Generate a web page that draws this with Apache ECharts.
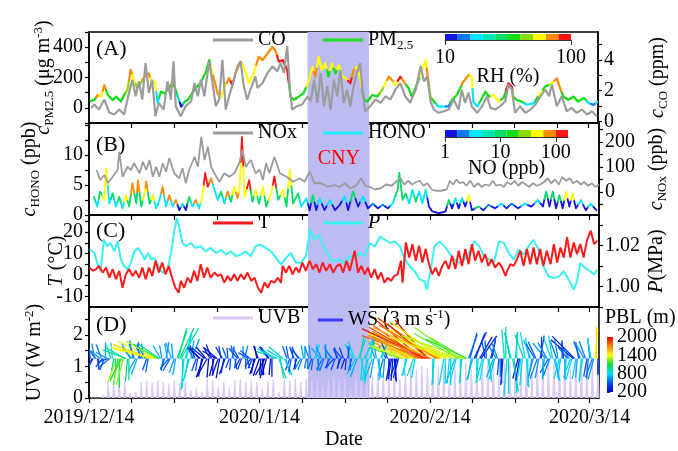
<!DOCTYPE html>
<html>
<head>
<meta charset="utf-8">
<script src="https://cdn.jsdelivr.net/npm/echarts@6/dist/echarts.min.js"></script>
<style>
  html, body { margin: 0; padding: 0; background: #fff; }
  #chart { width: 678px; height: 451px; }
</style>
</head>
<body>
<div id="chart"></div>
<script>
// x axis: days since 2019/12/14
const dateTicks = [0, 31, 62, 91]
const dateLabels = ['2019/12/14', '2020/1/14', '2020/2/14', '2020/3/14']
const minorTicks = [0, 7.75, 15.5, 23.25, 31, 38.75, 46.5, 54.25, 62, 69.75, 77.5, 85.25, 91]
const cnyStart = 39.8
const cnyEnd = 51.0

// (A) PM2.5 (ug m-3) coloured by RH (%)
const pmDay = [0.3, 1.0, 1.6, 2.2, 2.8, 3.4, 4.3, 5.0, 5.8, 6.4,
  7.0, 7.6, 8.2, 8.8, 9.4, 10.1, 10.9, 11.4, 12.0, 12.5,
  13.1, 13.8, 14.6, 15.2, 15.8, 16.3, 16.8, 17.4, 18.0, 19.2,
  20.4, 21.3, 21.9, 22.4, 22.8, 23.4, 24.0, 24.6, 25.5, 26.1,
  26.7, 27.6, 28.2, 29.1, 30.0, 30.9, 31.6, 32.5, 33.4, 33.9,
  34.6, 35.3, 36.1, 36.7, 37.3, 38.2, 39.1, 40.1, 40.7, 41.2,
  41.8, 42.4, 43.0, 43.6, 44.2, 44.9, 45.5, 46.1, 46.7, 47.6,
  48.2, 48.8, 49.4, 50.1, 50.7, 51.6, 52.5, 53.4, 54.0, 54.6,
  55.2, 55.8, 56.7, 57.3, 58.2, 58.8, 59.8, 60.7, 61.3, 61.7,
  62.2, 62.8, 63.7, 64.6, 65.5, 66.1, 67.0, 67.6, 68.2, 69.1,
  69.7, 70.0, 70.7, 71.6, 72.2, 72.8, 73.7, 74.6, 75.5, 76.4,
  77.0, 77.3, 77.9, 78.8, 79.8, 81.0, 81.6, 82.2, 83.1, 83.7,
  84.3, 85.2, 85.8, 86.4, 87.3, 88.2, 89.1, 90.1, 91.0, 91.9,
  92.7]
const pmVal = [45, 52, 85, 74, 150, 85, 52, 74, 41, 85,
  118, 250, 184, 131, 160, 205, 227, 162, 173, 33,
  107, 96, 131, 170, 118, 60, 8, 40, 52, 118,
  170, 238, 315, 240, 184, 98, 66, 131, 197, 150,
  230, 304, 271, 162, 230, 336, 315, 358, 402, 380,
  304, 315, 250, 74, 52, 74, 98, 184, 271, 205,
  336, 250, 293, 205, 293, 227, 282, 205, 195, 162,
  250, 271, 195, 52, 41, 85, 74, 118, 162, 205,
  184, 150, 205, 173, 129, 74, 162, 250, 315, 205,
  74, 41, 8, 8, 11, 52, 85, 131, 173, 216,
  205, 41, 8, 66, 107, 74, 85, 41, 66, 162,
  140, 74, 52, 41, 20, 31, 64, 96, 140, 150,
  162, 195, 129, 74, 52, 74, 41, 66, 31, 20,
  41]
const pmRH = [59, 59, 86, 77, 86, 59, 59, 59, 59, 59,
  68, 86, 77, 68, 68, 86, 86, 77, 77, 32,
  59, 59, 59, 68, 59, 41, 14, 50, 59, 59,
  59, 59, 59, 77, 86, 86, 77, 77, 86, 95,
  86, 86, 77, 77, 77, 86, 86, 86, 86, 86,
  95, 95, 95, 59, 59, 59, 59, 77, 77, 86,
  77, 77, 77, 59, 77, 59, 77, 77, 77, 95,
  86, 77, 77, 59, 59, 59, 59, 68, 77, 86,
  86, 77, 95, 86, 59, 59, 59, 77, 77, 86,
  68, 59, 32, 32, 23, 59, 59, 59, 86, 86,
  77, 32, 32, 59, 59, 59, 77, 77, 59, 95,
  95, 68, 59, 59, 32, 32, 59, 77, 59, 59,
  77, 86, 86, 59, 59, 59, 59, 59, 32, 23,
  32]

// (A) CO (ppm)
const coDay = [0.4, 1.0, 1.8, 2.8, 3.7, 4.6, 5.5, 6.4, 7.3, 7.9,
  8.5, 9.1, 9.7, 10.3, 10.9, 11.5, 12.1, 12.7, 13.6, 14.3,
  14.9, 15.4, 15.8, 16.7, 17.6, 18.6, 19.2, 19.8, 20.4, 21.0,
  21.9, 22.5, 23.1, 23.7, 24.3, 24.9, 25.5, 26.4, 27.0, 27.6,
  28.2, 28.8, 29.4, 30.3, 30.7, 31.6, 32.5, 33.4, 34.3, 34.9,
  35.5, 36.1, 36.6, 37.0, 37.9, 38.8, 39.8, 40.4, 41.0, 41.6,
  42.2, 42.8, 43.4, 44.0, 44.6, 45.2, 45.8, 46.4, 47.0, 47.6,
  48.2, 48.8, 49.4, 49.9, 50.3, 51.2, 52.2, 53.1, 54.0, 54.9,
  55.8, 56.7, 57.6, 58.5, 59.5, 60.4, 61.0, 61.6, 62.2, 62.8,
  63.7, 64.6, 65.5, 66.4, 67.3, 67.9, 68.5, 69.1, 69.7, 70.7,
  71.6, 72.5, 73.1, 74.0, 74.9, 75.8, 76.4, 77.0, 77.6, 78.5,
  79.5, 80.4, 81.3, 82.2, 83.1, 83.8, 84.3, 85.2, 86.1, 87.0,
  87.9, 88.8, 89.8, 90.7, 91.6, 92.5]
const coVal = [0.88, 1.10, 0.77, 1.42, 0.58, 0.45, 0.77, 0.45, 1.87, 2.71,
  1.63, 2.6, 1.42, 3.79, 1.85, 2.71, 0.34, 1.2, 0.77, 2.6,
  1.42, 3.9, 0.99, 0.34, 0.99, 1.31, 2.49, 1.63, 2.71, 1.63,
  3.9, 2.49, 0.99, 1.42, 4.0, 0.77, 1.63, 2.71, 3.57, 3.9,
  2.28, 1.42, 2.06, 2.92, 2.17, 2.49, 3.14, 3.57, 3.25, 3.79,
  3.14, 4.9, 2.06, 0.77, 0.99, 1.1, 1.63, 1.31, 2.71, 1.2,
  3.14, 0.99, 2.28, 0.77, 2.71, 1.63, 3.35, 1.2, 2.06, 0.99,
  2.28, 3.14, 3.79, 1.63, 0.66, 0.99, 1.42, 1.2, 1.63, 1.42,
  2.06, 2.49, 1.63, 1.2, 2.06, 3.6, 2.6, 2.92, 1.31, 0.77,
  0.56, 0.66, 0.77, 1.42, 0.77, 2.06, 1.2, 1.87, 0.99, 0.56,
  0.99, 1.63, 0.88, 0.77, 0.99, 1.31, 2.39, 2.06, 0.56, 0.99,
  0.56, 0.77, 1.1, 1.63, 2.06, 1.63, 2.39, 0.99, 1.63, 0.66,
  0.88, 0.56, 0.77, 0.45, 0.66, 0.34]

// (B) HONO (ppb) coloured by NO (ppb)
const honoDay = [0.9, 1.5, 2.0, 2.8, 3.1, 3.7, 4.3, 4.9, 5.5, 6.1,
  6.7, 7.3, 7.9, 8.6, 8.9, 9.5, 10.1, 10.4, 11.0, 11.6,
  12.2, 12.8, 13.4, 14.0, 14.6, 15.2, 15.8, 16.4, 17.0, 17.6,
  18.2, 18.8, 19.4, 20.0, 20.6, 21.1, 21.6, 22.2, 22.8, 23.4,
  24.0, 24.6, 25.2, 25.8, 26.4, 27.0, 27.4, 27.8, 28.3, 29.1,
  29.7, 30.3, 30.9, 31.6, 32.2, 33.1, 33.7, 34.4, 35.3, 35.9,
  36.5, 37.1, 38.0, 38.6, 39.5, 40.1, 40.7, 41.3, 41.9, 42.8,
  43.8, 44.7, 45.6, 46.5, 47.1, 48.0, 48.9, 49.8, 50.7, 51.6,
  52.5, 53.4, 54.3, 55.2, 56.1, 56.4, 57.0, 57.6, 58.2, 58.8,
  59.4, 60.0, 60.6, 61.2, 61.8, 62.4, 63.6, 64.8, 65.4, 66.0,
  66.6, 67.2, 67.8, 68.4, 69.0, 69.6, 70.8, 71.7, 72.6, 73.8,
  75.0, 75.9, 76.8, 78.0, 79.2, 80.4, 81.6, 82.5, 83.1, 83.7,
  84.3, 84.9, 85.5, 86.1, 86.7, 87.3, 87.9, 88.5, 89.4, 90.3,
  91.2, 92.2]
const honoVal = [3.0, 1.4, 3.9, 2.5, 7.8, 1.9, 3.6, 1.4, 3.0, 1.1,
  3.3, 1.4, 5.3, 1.9, 5.8, 1.4, 3.6, 5.6, 1.9, 3.3,
  1.1, 2.5, 4.7, 1.4, 3.3, 1.4, 2.5, 0.8, 1.9, 0.8,
  3.0, 1.4, 2.5, 1.1, 3.0, 7.0, 4.7, 6.1, 4.2, 2.5,
  3.9, 1.9, 3.9, 2.2, 4.7, 2.8, 4.7, 13.0, 3.0, 5.8,
  2.2, 4.2, 1.9, 4.7, 1.4, 3.6, 6.4, 2.5, 4.2, 1.4,
  7.5, 1.9, 3.6, 1.4, 2.8, 0.8, 3.3, 0.8, 2.8, 0.8,
  2.5, 0.8, 1.7, 3.1, 0.8, 3.9, 1.4, 3.1, 1.1, 1.9,
  1.1, 1.7, 1.1, 1.9, 4.2, 7.0, 2.5, 3.6, 1.9, 4.2,
  2.2, 3.9, 1.9, 4.2, 1.4, 0.6, 0.3, 0.6, 2.5, 1.1,
  2.8, 1.1, 2.8, 1.4, 3.3, 0.8, 1.4, 0.8, 1.7, 1.1,
  1.9, 1.1, 1.9, 1.1, 1.9, 1.4, 2.5, 1.4, 3.9, 1.4,
  3.9, 1.1, 3.3, 1.1, 3.9, 1.4, 3.6, 1.1, 2.5, 0.8,
  1.9, 0.8]
const honoNO = [10, 3.5, 10, 44, 44, 3.5, 10, 3.5, 10, 3.5,
  44, 10, 73, 10, 73, 10, 44, 73, 10, 44,
  3.5, 3.5, 73, 3.5, 73, 3.5, 73, 1.3, 3.5, 1.3,
  10, 3.5, 73, 3.5, 44, 121, 121, 73, 3.5, 3.5,
  10, 3.5, 73, 10, 44, 73, 44, 121, 44, 121,
  10, 44, 10, 44, 10, 44, 121, 10, 44, 10,
  44, 10, 10, 3.5, 3.5, 1.3, 10, 1.3, 3.5, 1.3,
  3.5, 1.3, 1.3, 3.5, 1.3, 10, 1.3, 3.5, 1.3, 2.1,
  1.3, 2.1, 1.3, 3.5, 10, 10, 10, 10, 3.5, 3.5,
  10, 3.5, 3.5, 3.5, 1.3, 1.3, 1.3, 1.3, 10, 1.3,
  3.5, 1.3, 3.5, 1.3, 44, 1.3, 10, 1.3, 2.1, 1.3,
  3.5, 1.3, 2.1, 1.3, 3.5, 1.3, 3.5, 1.3, 10, 1.3,
  10, 1.3, 10, 1.3, 44, 1.3, 44, 1.3, 3.5, 1.3,
  3.5, 1.3]

// (B) NOx (ppb)
const noxDay = [1.4, 2.0, 2.8, 3.4, 4.3, 5.2, 5.5, 6.1, 7.0, 7.6,
  8.2, 9.2, 9.8, 10.4, 11.0, 11.6, 12.2, 12.8, 13.4, 14.0,
  14.6, 15.5, 16.4, 17.0, 17.6, 18.2, 19.2, 19.8, 20.4, 21.0,
  21.6, 22.2, 22.8, 23.7, 24.6, 25.5, 26.4, 27.3, 27.9, 28.5,
  29.4, 30.3, 31.0, 31.6, 32.2, 32.8, 33.7, 34.7, 35.9, 37.1,
  38.3, 39.2, 40.1, 41.0, 42.2, 43.4, 44.7, 45.5, 46.5, 47.5,
  48.5, 49.5, 50.2, 51.0, 52.0, 53.0, 54.0, 55.0, 56.0, 56.6,
  57.3, 58.0, 58.7, 59.5, 60.1, 60.8, 61.5, 62.3, 63.0, 64.0,
  65.0, 65.6, 66.2, 66.8, 67.4, 68.0, 68.6, 69.3, 70.0, 70.7,
  71.4, 72.0, 72.7, 73.4, 74.0, 74.7, 75.4, 76.0, 76.7, 77.4,
  78.0, 78.7, 79.4, 80.0, 80.7, 81.4, 82.0, 82.7, 83.4, 84.0,
  84.7, 85.4, 86.0, 86.7, 87.4, 88.0, 88.7, 89.4, 90.0, 90.7,
  91.4, 92.0, 92.7]
const noxVal = [88, 48, 68, 35, 61, 88, 161, 61, 101, 88,
  115, 75, 121, 88, 128, 61, 101, 61, 115, 81,
  135, 75, 55, 95, 35, 88, 141, 101, 221, 128,
  181, 101, 75, 41, 75, 61, 75, 115, 168, 101,
  128, 75, 90, 48, 115, 75, 141, 75, 61, 41,
  55, 41, 81, 35, 35, 21, 28, 20, 35, 15,
  25, 55, 25, 20, 10, 15, 30, 25, 45, 55,
  30, 45, 30, 40, 45, 25, 35, 10, 5, 5,
  10, 45, 30, 50, 35, 40, 25, 45, 20, 35,
  20, 30, 25, 45, 25, 30, 20, 40, 30, 45,
  25, 40, 30, 20, 35, 25, 30, 40, 55, 35,
  50, 30, 60, 45, 55, 35, 45, 30, 40, 25,
  35, 20, 30]

// (C) temperature (degC)
const tDay = [0.1, 0.7, 1.3, 1.8, 2.5, 3.1, 3.7, 4.3, 4.9, 5.5,
  6.1, 6.7, 7.3, 7.9, 8.5, 9.1, 9.7, 10.3, 10.9, 11.5,
  12.1, 12.7, 13.3, 13.9, 14.5, 15.1, 15.7, 16.3, 16.7, 17.3,
  17.9, 18.5, 19.1, 19.7, 20.3, 20.9, 21.5, 22.1, 22.8, 23.4,
  24.0, 24.6, 25.2, 25.8, 26.4, 27.0, 27.6, 28.2, 28.8, 29.5,
  30.1, 30.7, 31.3, 31.9, 32.5, 33.1, 33.7, 34.3, 34.9, 35.2,
  35.8, 36.4, 37.0, 37.6, 38.2, 38.8, 39.4, 40.1, 40.7, 41.3,
  41.9, 42.5, 43.1, 43.8, 44.4, 45.0, 45.6, 46.2, 46.8, 47.4,
  48.3, 48.9, 49.5, 50.1, 50.7, 51.3, 51.9, 52.5, 53.1, 53.7,
  54.3, 54.9, 55.5, 56.1, 56.7, 57.0, 57.6, 58.2, 58.8, 59.4,
  60.0, 60.6, 61.2, 61.8, 62.4, 63.0, 63.6, 64.2, 64.8, 65.4,
  66.0, 66.6, 67.2, 67.8, 68.4, 69.0, 69.6, 70.2, 70.8, 71.4,
  72.0, 72.6, 73.2, 73.8, 74.5, 75.1, 75.7, 76.0, 76.6, 77.2,
  77.8, 78.4, 79.0, 79.6, 80.2, 80.8, 81.4, 82.0, 82.6, 83.2,
  83.9, 84.5, 85.1, 85.7, 86.3, 86.9, 87.5, 88.1, 88.7, 89.3,
  89.9, 90.5, 91.2, 91.8, 92.4]
const tVal = [3.4, 1.9, 2.7, 4.2, 1.1, 3.4, -1.3, 2.7, -2.0, 1.9,
  -6.0, 0.3, 2.7, -0.5, 1.9, -1.3, 3.4, -2.0, 3.4, -0.5,
  6.6, 1.1, 5.8, 0.3, 4.2, -1.3, -6.0, -8.3, -2.8, -6.0,
  -1.3, -3.6, 1.9, -2.8, 5.0, -1.3, 3.4, -1.3, 1.1, -0.5,
  0.3, -3.6, -0.5, -2.8, 0.3, -2.8, 0.3, -2.0, 1.1, -2.8,
  -1.3, -6.0, -8.3, -3.6, -6.0, -2.8, -3.6, -1.3, -3.6, 4.2,
  1.1, 4.2, 0.3, 3.4, 1.1, 5.8, 1.9, 6.6, 2.7, 5.0,
  1.1, 5.8, 1.9, 5.0, 1.1, 4.0, 5.0, 1.1, 6.6, 1.9,
  11.3, 1.1, 4.2, 0.3, 3.4, -1.3, 2.7, -2.0, 1.1, -3.6,
  -1.3, -2.8, -0.5, 0.3, 6.6, -3.6, 15.2, 8.1, 14.4, 6.6,
  13.6, 5.8, 12.1, 5.0, 0.3, 3.4, -0.5, 4.2, 6.6, 2.7,
  8.9, 2.7, 11.3, 4.2, 12.1, 5.0, 14.4, 6.6, 11.3, 5.8,
  9.7, 4.2, 7.4, 3.4, 5.8, 3.4, -0.5, 1.9, 5.0, 4.2,
  7.4, 11.3, 4.2, 12.1, 5.0, 12.8, 5.0, 12.1, 4.2, 11.3,
  5.0, 14.4, 5.8, 12.8, 8.1, 17.6, 8.1, 15.2, 9.7, 14.4,
  8.1, 16.0, 20.7, 14.4, 16.0]

// (C) pressure (MPa)
const pDay = [0.1, 1.0, 1.5, 2.1, 2.7, 3.3, 3.9, 4.6, 5.2, 5.8,
  6.4, 7.0, 7.6, 8.2, 8.9, 9.5, 10.1, 10.7, 11.3, 11.9,
  12.5, 13.1, 13.7, 14.3, 14.9, 15.5, 16.0, 16.5, 17.0, 17.6,
  18.5, 19.4, 20.3, 21.2, 22.1, 23.1, 24.0, 24.9, 25.8, 26.7,
  27.6, 28.5, 29.4, 30.3, 31.2, 32.1, 33.1, 34.0, 34.9, 35.8,
  36.7, 37.6, 38.5, 39.4, 40.2, 40.9, 41.8, 42.7, 43.3, 43.9,
  44.7, 45.6, 46.5, 47.4, 48.3, 49.2, 50.1, 51.0, 52.0, 52.9,
  53.8, 54.7, 55.6, 56.5, 57.4, 58.3, 59.2, 60.1, 61.0, 61.4,
  61.9, 62.8, 63.7, 64.6, 65.5, 66.4, 67.3, 68.2, 69.1, 70.0,
  70.9, 71.8, 72.7, 73.6, 74.5, 75.4, 76.3, 77.2, 78.1, 79.0,
  79.9, 80.8, 81.7, 82.6, 83.5, 84.5, 85.4, 86.3, 87.2, 88.1,
  88.7, 89.3, 90.2, 91.1, 91.8, 92.4]
const pVal = [1.018, 1.0164, 1.0116, 1.0075, 1.0229, 1.0197, 1.0213, 1.0172, 1.0221, 1.0132,
  1.0099, 1.0083, 1.0116, 1.0172, 1.0189, 1.0164, 1.0132, 1.0164, 1.0132, 1.014,
  1.0107, 1.0075, 1.0067, 1.0083, 1.0164, 1.027, 1.0335, 1.0278, 1.0213, 1.0197,
  1.0213, 1.0189, 1.0197, 1.0172, 1.0189, 1.0164, 1.018, 1.0156, 1.0172, 1.0148,
  1.0156, 1.0172, 1.0148, 1.0197, 1.0205, 1.0189, 1.0172, 1.014, 1.0107, 1.014,
  1.0164, 1.0116, 1.0116, 1.0148, 1.0278, 1.0229, 1.0254, 1.0189, 1.0172, 1.0132,
  1.0125, 1.0132, 1.0116, 1.0148, 1.014, 1.0164, 1.0148, 1.0213, 1.0197, 1.0245,
  1.0229, 1.0213, 1.0221, 1.0197, 1.0132, 1.0099, 1.0075, 1.0034, 1.0026, 0.9985,
  1.005, 1.0197, 1.0221, 1.0197, 1.0164, 1.0132, 1.0116, 1.0132, 1.0164, 1.0221,
  1.0197, 1.0148, 1.0132, 1.0116, 1.0221, 1.0213, 1.0164, 1.0132, 1.018, 1.0156,
  1.0197, 1.0229, 1.018, 1.0099, 1.005, 1.0042, 1.005, 1.0075, 1.0034, 0.9985,
  1.0026, 1.0116, 1.0091, 1.0075, 1.0059, 1.0083]

// (D) daily UVB peak (W m-2), one per day from day 0
const uvbPeak = [0.05, 0.05, 0.1, 0.5, 0.52, 0.55, 0.5, 0.15, 0.2, 0.5,
  0.55, 0.5, 0.55, 0.5, 0.45, 0.55, 0.5, 0.52, 0.25, 0.3,
  0.2, 0.6, 0.55, 0.35, 0.5, 0.3, 0.55, 0.6, 0.5, 0.55,
  0.5, 0.3, 0.55, 0.6, 0.2, 0.6, 0.55, 0.6, 0.5, 0.6,
  0.55, 0.6, 0.4, 0.6, 0.65, 0.6, 0.6, 0.3, 0.65, 0.6,
  0.55, 0.7, 0.8, 0.85, 0.8, 0.9, 0.6, 0.85, 1.0, 0.9,
  1.0, 0.95, 1.05, 1.0, 1.05, 0.5, 1.0, 1.05, 1.1, 0.9,
  1.1, 1.05, 1.1, 1.1, 0.7, 1.1, 1.15, 1.1, 1.15, 1.15,
  0.8, 1.2, 1.15, 1.2, 1.1, 1.2, 1.2, 0.9, 1.2, 1.2,
  1.25, 1.2, 1.2]

// (D) wind sticks, two sets every half day (set B offset by a quarter day):
// direction drawn (deg, 0 = right, 90 = up), speed (m s-1), PBL (m)
const wsStep = 0.5
const wsOffsetB = 0.25
const wsAng = [120, 250, 100, 280, 140, 230, 90, 200, 110, 260,
  250, 270, 240, 150, 265, 120, 100, 240, 90, 140,
  100, 250, 165, 160, 155, 150, 120, 260, 80, 230,
  110, 250, 70, 65, 270, 75, 260, 80, 120, 250,
  130, 260, 140, 240, 120, 270, 150, 250, 100, 260,
  110, 250, 80, 280, 130, 240, 90, 270, 150, 230,
  260, 100, 250, 275, 240, 120, 265, 140, 160, 290,
  150, 295, 110, 250, 90, 270, 120, 240, 100, 260,
  110, 250, 70, 280, 130, 240, 90, 260, 120, 230,
  100, 260, 130, 250, 80, 270, 120, 240, 70, 280,
  60, 265, 75, 250, 110, 280, 65, 255, 120, 270,
  260, 275, 250, 160, 150, 265, 155, 145, 250, 160,
  150, 140, 160, 130, 155, 270, 145, 160, 150, 260,
  155, 265, 160, 250, 150, 270, 165, 150, 70, 260,
  65, 270, 60, 255, 100, 280, 75, 250, 120, 265,
  270, 95, 265, 100, 280, 85, 255, 260, 110, 275,
  100, 260, 120, 250, 80, 270, 130, 240, 110, 285,
  110, 255, 90, 270, 130, 250, 140, 260, 100, 265,
  120, 260, 95, 250, 85, 270]
const wsSpeed = [1.6, 1.2, 1.8, 1.4, 1.5, 1.3, 1.9, 1.2, 1.7, 1.5,
  3.0, 3.5, 2.8, 2.5, 2.8, 2.0, 2.2, 1.8, 2.0, 1.6,
  1.8, 1.5, 4.5, 5.0, 4.8, 3.5, 1.8, 1.5, 2.0, 1.6,
  2.0, 1.8, 3.5, 4.0, 3.5, 3.0, 2.5, 2.2, 1.5, 1.6,
  1.8, 2.2, 2.0, 2.5, 1.6, 2.0, 1.8, 2.2, 1.5, 1.8,
  1.4, 1.2, 1.5, 1.3, 1.6, 1.2, 1.5, 1.3, 1.4, 1.2,
  1.8, 1.5, 2.2, 2.0, 2.3, 1.6, 2.0, 2.2, 2.5, 2.6,
  2.0, 2.2, 1.6, 1.5, 1.4, 1.3, 1.5, 1.4, 1.6, 1.2,
  1.5, 1.3, 1.8, 1.4, 1.6, 1.5, 1.7, 1.2, 1.5, 1.4,
  1.4, 1.2, 1.5, 1.3, 1.6, 1.4, 2.0, 2.2, 2.5, 2.8,
  2.8, 3.0, 2.5, 2.6, 2.0, 2.4, 2.6, 2.2, 1.8, 2.5,
  2.5, 2.8, 2.2, 3.5, 4.0, 2.0, 5.0, 5.5, 2.2, 6.0,
  6.5, 7.0, 8.0, 6.0, 7.5, 3.0, 8.5, 9.0, 7.0, 3.2,
  8.0, 3.0, 7.0, 3.2, 6.0, 2.8, 8.5, 5.0, 3.0, 2.5,
  3.5, 2.8, 3.0, 2.5, 2.0, 2.6, 2.2, 2.4, 1.8, 2.0,
  3.0, 3.5, 4.5, 3.0, 4.0, 3.2, 2.5, 3.0, 3.0, 3.5,
  2.5, 2.2, 2.0, 2.6, 2.8, 2.3, 2.4, 2.0, 2.6, 2.8,
  2.2, 2.5, 2.0, 2.6, 1.8, 2.4, 3.5, 2.5, 2.0, 2.8,
  2.0, 2.2, 2.5, 2.4, 3.5, 1.8]
const wsPBL = [500, 350, 600, 400, 650, 450, 700, 500, 900, 1000,
  1300, 1100, 1200, 900, 1000, 700, 600, 650, 600, 550,
  650, 500, 1400, 1500, 1350, 1100, 700, 600, 650, 550,
  700, 650, 950, 1000, 900, 850, 800, 700, 550, 500,
  300, 250, 280, 220, 350, 300, 260, 240, 400, 350,
  550, 450, 600, 500, 500, 400, 650, 450, 500, 400,
  280, 300, 250, 240, 260, 320, 300, 700, 900, 950,
  850, 800, 550, 500, 450, 400, 550, 600, 700, 550,
  600, 500, 800, 650, 700, 550, 600, 500, 650, 450,
  450, 400, 500, 350, 550, 500, 800, 750, 900, 850,
  900, 800, 850, 750, 650, 700, 850, 600, 500, 350,
  300, 250, 350, 1200, 1300, 800, 1500, 1400, 900, 1600,
  1700, 1900, 1800, 2000, 1600, 900, 1800, 1500, 1400, 850,
  1400, 800, 1300, 750, 1200, 900, 1350, 1200, 600, 700,
  350, 800, 300, 850, 500, 900, 400, 700, 600, 500,
  350, 900, 850, 950, 900, 850, 300, 800, 900, 850,
  800, 700, 500, 600, 400, 750, 650, 550, 900, 800,
  600, 800, 450, 700, 550, 850, 300, 750, 500, 900,
  650, 500, 700, 600, 1400, 400]
const wsAngB = [100, 240, 130, 270, 110, 250, 150, 220, 95, 275,
  260, 245, 255, 160, 270, 130, 110, 250, 100, 120,
  120, 260, 160, 165, 150, 145, 100, 250, 100, 240,
  95, 260, 75, 60, 265, 80, 255, 70, 110, 260,
  140, 250, 130, 265, 110, 255, 140, 260, 120, 250,
  95, 265, 100, 260, 120, 250, 75, 285, 140, 245,
  250, 110, 265, 260, 255, 130, 270, 150, 155, 280,
  140, 285, 100, 260, 110, 255, 130, 250, 90, 270,
  95, 260, 85, 265, 115, 250, 100, 245, 130, 250,
  115, 250, 110, 265, 95, 255, 110, 250, 80, 265,
  70, 255, 85, 260, 100, 270, 75, 265, 110, 260,
  265, 270, 255, 155, 160, 255, 150, 150, 260, 155,
  145, 150, 155, 140, 160, 265, 150, 155, 145, 270,
  160, 270, 155, 255, 145, 265, 160, 155, 75, 255,
  70, 265, 55, 260, 95, 275, 80, 255, 110, 270,
  265, 90, 270, 105, 275, 90, 260, 265, 100, 270,
  110, 255, 115, 260, 90, 265, 120, 250, 100, 280,
  100, 260, 95, 265, 120, 255, 135, 265, 110, 260,
  110, 265, 100, 255, 90, 265]
const wsSpeedB = [1.4, 1.5, 1.6, 1.3, 1.8, 1.4, 1.5, 1.6, 1.9, 1.4,
  3.2, 3.0, 3.3, 3.0, 2.6, 1.8, 1.9, 2.0, 1.8, 1.7,
  1.6, 1.7, 4.8, 5.3, 4.2, 3.0, 1.6, 1.4, 1.8, 1.7,
  1.8, 2.0, 3.8, 4.2, 3.8, 3.2, 2.8, 2.5, 1.7, 1.5,
  2.0, 2.4, 1.8, 2.3, 1.8, 2.2, 2.0, 2.4, 1.6, 2.0,
  1.3, 1.4, 1.6, 1.2, 1.5, 1.4, 1.6, 1.2, 1.5, 1.3,
  2.0, 1.6, 2.0, 2.4, 2.1, 1.8, 2.2, 2.4, 2.3, 2.4,
  2.2, 2.0, 1.5, 1.6, 1.5, 1.4, 1.4, 1.5, 1.5, 1.3,
  1.6, 1.4, 1.7, 1.5, 1.5, 1.6, 1.6, 1.3, 1.4, 1.5,
  1.3, 1.3, 1.4, 1.4, 1.5, 1.5, 2.2, 2.4, 2.6, 2.6,
  2.6, 2.8, 2.7, 2.4, 2.2, 2.6, 2.4, 2.3, 2.0, 2.7,
  2.7, 2.6, 2.4, 3.8, 4.5, 2.2, 5.5, 6.0, 2.4, 6.5,
  7.0, 7.5, 8.5, 6.5, 8.0, 3.2, 8.0, 8.8, 7.5, 3.0,
  7.5, 3.2, 6.5, 3.0, 6.5, 3.0, 8.0, 5.5, 3.2, 2.7,
  3.2, 3.0, 3.3, 2.7, 2.2, 2.8, 2.4, 2.6, 2.0, 2.2,
  3.2, 3.8, 4.2, 3.2, 4.2, 3.0, 2.7, 3.2, 3.2, 3.3,
  2.4, 2.4, 2.2, 2.4, 2.6, 2.5, 2.2, 2.2, 2.8, 2.6,
  2.4, 2.3, 2.2, 2.4, 2.0, 2.6, 3.8, 2.3, 2.2, 2.6,
  2.2, 2.4, 2.3, 2.6, 3.8, 2.0]
const wsPBLB = [450, 400, 550, 500, 600, 500, 650, 550, 800, 950,
  1200, 1150, 1250, 1000, 950, 650, 600, 700, 550, 600,
  600, 550, 1450, 1400, 1300, 1000, 650, 550, 700, 500,
  650, 700, 1000, 950, 850, 800, 850, 650, 500, 450,
  280, 230, 300, 250, 330, 280, 250, 260, 380, 320,
  500, 480, 550, 520, 480, 420, 600, 480, 520, 420,
  260, 290, 240, 260, 250, 300, 280, 750, 850, 900,
  900, 750, 500, 520, 480, 420, 500, 650, 650, 600,
  650, 550, 750, 600, 650, 600, 650, 520, 600, 500,
  480, 420, 450, 380, 500, 550, 850, 700, 950, 800,
  850, 850, 800, 700, 700, 750, 800, 650, 450, 300,
  280, 300, 320, 1300, 1350, 850, 1550, 1450, 850, 1700,
  1800, 1850, 1950, 1900, 1700, 850, 1750, 1600, 1450, 800,
  1450, 850, 1350, 800, 1250, 850, 1300, 1150, 550, 750,
  400, 850, 350, 800, 550, 850, 450, 750, 650, 550,
  400, 950, 900, 900, 850, 900, 350, 850, 850, 800,
  750, 650, 550, 650, 450, 700, 600, 600, 850, 750,
  650, 750, 500, 750, 600, 800, 350, 700, 550, 850,
  600, 550, 750, 650, 1500, 450]

// colour scales
const barColors = ['#1414e0', '#0a78f0', '#00e6ff', '#00e6b4', '#00dc64', '#14dc14', '#8cdc00', '#ffff00', '#ff8c00', '#ff1414']
const jetColors = ['#0000c0', '#0050ff', '#00d8ff', '#00e040', '#ffff00', '#ff8000', '#e00000']
const rhTicks = [10, 100]
const noTicks = [1, 10, 100]
const pblTicks = [200, 800, 1400, 2000]

const FONT = 'Liberation Serif'
const BAND = '#bcbcf3'
const WS_PX = 25 / 3 // legend stick: 3 m s-1
const WS_BASE = 1.25

const RICH = {
  n: { fontFamily: FONT, fontSize: 20, color: '#000', lineHeight: 24 },
  i: { fontFamily: FONT, fontSize: 20, color: '#000', fontStyle: 'italic', lineHeight: 24 },
  sub: { fontFamily: FONT, fontSize: 13, color: '#000', lineHeight: 12, verticalAlign: 'bottom' },
  sup: { fontFamily: FONT, fontSize: 13, color: '#000', lineHeight: 12, verticalAlign: 'top' }
}

const panels = [
  { top: 32, height: 91 },
  { top: 123, height: 92 },
  { top: 215, height: 92 },
  { top: 307, height: 92 }
]

function xAx (grid, labels) {
  return {
    type: 'value', gridIndex: grid, min: 0, max: 92.7, position: 'bottom',
    axisLine: { show: true, onZero: false, lineStyle: { color: '#000', width: 1.5 } },
    axisTick: { show: true, length: 5, customValues: minorTicks, lineStyle: { color: '#000', width: 1.2 } },
    axisLabel: {
      show: labels, customValues: dateTicks, margin: 10,
      fontFamily: FONT, fontSize: 20, color: '#000',
      formatter: v => {
        const k = dateTicks.findIndex(t => Math.abs(t - v) < 1e-6)
        return k >= 0 ? dateLabels[k] : ''
      }
    },
    splitLine: { show: false },
    name: labels ? 'Date' : '', nameLocation: 'middle', nameGap: 32, nameMoveOverlap: false,
    nameTextStyle: { fontFamily: FONT, fontSize: 20, color: '#000' }
  }
}

function yAx (o) {
  return {
    type: 'value', gridIndex: o.grid, position: o.pos, min: o.min, max: o.max,
    axisLine: { show: true, onZero: false, lineStyle: { color: '#000', width: 1.5 } },
    axisTick: { show: true, length: 4, customValues: o.ticks, lineStyle: { color: '#000', width: 1.2 } },
    axisLabel: { customValues: o.labels, formatter: o.fmt, margin: 6, fontFamily: FONT, fontSize: 20, color: '#000' },
    splitLine: { show: false },
    name: o.name, nameLocation: 'middle', nameRotate: 90, nameGap: o.gap, nameMoveOverlap: false,
    nameTextStyle: { fontFamily: FONT, fontSize: 20, color: '#000', rich: RICH }
  }
}

function hidden (grid, min, max) {
  return { type: 'value', gridIndex: grid, min: min, max: max, show: false, splitLine: { show: false } }
}

// colour bar scale for PBL; labels split over two axes so none is dropped
function pblAx (labels, ticks) {
  return {
    type: 'value', gridIndex: 6, position: 'right', min: 200, max: 2000,
    axisLine: { show: false },
    axisTick: { show: ticks.length > 0, length: 3, customValues: ticks, lineStyle: { color: '#333' } },
    axisLabel: { customValues: labels, margin: 4, fontFamily: FONT, fontSize: 20, color: '#000',
      showMinLabel: true, showMaxLabel: true, formatter: v => String(v) },
    splitLine: { show: false }
  }
}

function colorLine (name, xi, yi, days, vals, cols, width) {
  return {
    type: 'custom', name: name, xAxisIndex: xi, yAxisIndex: yi, z: 3, clip: true,
    encode: { x: 0, y: 1 },
    data: days.map((d, i) => [d, vals[i], cols[i]]),
    renderItem: (params, api) => {
      const i = params.dataIndex
      const p = api.coord([days[i], vals[i]])
      const a = i > 0 ? api.coord([days[i - 1], vals[i - 1]]) : p
      const b = i < days.length - 1 ? api.coord([days[i + 1], vals[i + 1]]) : p
      return {
        type: 'polyline',
        shape: { points: [[(a[0] + p[0]) / 2, (a[1] + p[1]) / 2], p, [(b[0] + p[0]) / 2, (b[1] + p[1]) / 2]] },
        style: { stroke: api.visual('color'), lineWidth: width, fill: null, lineJoin: 'round', lineCap: 'round' }
      }
    }
  }
}

function band (xi, yi, label) {
  return {
    type: 'line', xAxisIndex: xi, yAxisIndex: yi, data: [], z: 1, silent: true,
    markArea: {
      silent: true, z: 1,
      itemStyle: { color: BAND },
      label: { show: !!label, position: 'insideTop', distance: 26, color: '#ff0000', fontFamily: FONT, fontSize: 20 },
      data: [[{ name: label || '', xAxis: cnyStart }, { xAxis: cnyEnd }]]
    }
  }
}

function leg (name, left, top, color, fmt, w) {
  return {
    left: left, top: top, padding: 0, itemWidth: w || 40, itemHeight: 3, selectedMode: false,
    data: [{ name: name, icon: 'rect', itemStyle: { color: color } }],
    formatter: () => fmt || name,
    textStyle: { fontFamily: FONT, fontSize: 20, color: '#000', rich: RICH }
  }
}

const uvbData = []
uvbPeak.forEach((p, d) => { uvbData.push([d + 0.3, 0], [d + 0.5, p], [d + 0.7, 0]) })

const wsData = wsAng.map((a, i) => [i * wsStep, WS_BASE, a, wsSpeed[i], wsPBL[i]])
  .concat(wsAngB.map((a, i) => [i * wsStep + wsOffsetB, WS_BASE, a, wsSpeedB[i], wsPBLB[i]]))

const series = [
  band(0, 0), band(1, 2, 'CNY'), band(2, 4), band(3, 6),
  colorLine('PM2.5', 0, 0, pmDay, pmVal, pmRH, 2.2),
  {
    type: 'line', name: 'CO', xAxisIndex: 0, yAxisIndex: 1, z: 4, symbol: 'none',
    lineStyle: { color: '#9c9c9c', width: 2.2 }, itemStyle: { color: '#9c9c9c' },
    data: coDay.map((d, i) => [d, coVal[i]])
  },
  {
    type: 'line', name: 'NOx', xAxisIndex: 1, yAxisIndex: 3, z: 4, symbol: 'none',
    lineStyle: { color: '#9c9c9c', width: 1.8 }, itemStyle: { color: '#9c9c9c' },
    data: noxDay.map((d, i) => [d, noxVal[i]])
  },
  colorLine('HONO', 1, 2, honoDay, honoVal, honoNO.map(v => Math.log10(v)), 1.8),
  {
    type: 'line', name: 'P', xAxisIndex: 2, yAxisIndex: 5, z: 3, symbol: 'none',
    lineStyle: { color: '#3af2f2', width: 2 }, itemStyle: { color: '#3af2f2' },
    data: pDay.map((d, i) => [d, pVal[i]])
  },
  {
    type: 'line', name: 'T', xAxisIndex: 2, yAxisIndex: 4, z: 4, symbol: 'none',
    lineStyle: { color: '#ff1a1a', width: 2 }, itemStyle: { color: '#ff1a1a' },
    data: tDay.map((d, i) => [d, tVal[i]])
  },
  {
    type: 'line', name: 'UVB', xAxisIndex: 3, yAxisIndex: 6, z: 2, symbol: 'none',
    lineStyle: { color: '#d9c8f6', width: 1 }, itemStyle: { color: '#d9c8f6' },
    areaStyle: { color: '#d9c8f6', opacity: 1 },
    data: uvbData
  },
  {
    type: 'custom', name: 'WS', xAxisIndex: 3, yAxisIndex: 6, z: 4, clip: true,
    encode: { x: 0, y: 1 },
    data: wsData,
    renderItem: (params, api) => {
      const p = api.coord([api.value(0), api.value(1)])
      const len = api.value(3) * WS_PX
      const r = api.value(2) * Math.PI / 180
      return {
        type: 'line',
        shape: { x1: p[0], y1: p[1], x2: p[0] + len * Math.cos(r), y2: p[1] - len * Math.sin(r) },
        style: { stroke: api.visual('color'), lineWidth: 1.3 }
      }
    }
  },
  // colour bars
  {
    type: 'custom', xAxisIndex: 4, yAxisIndex: 7, silent: true, encode: { x: 0, y: 1 },
    data: barColors.map((c, i) => [i, 0]),
    renderItem: (params, api) => {
      const i = api.value(0)
      const p0 = api.coord([i, 1])
      const p1 = api.coord([i + 1, 0])
      return { type: 'rect', shape: { x: p0[0], y: p0[1], width: p1[0] - p0[0], height: p1[1] - p0[1] }, style: { fill: barColors[i] } }
    }
  },
  {
    type: 'custom', xAxisIndex: 6, yAxisIndex: 8, silent: true, encode: { x: 0, y: 1 },
    data: barColors.map((c, i) => [i, 0]),
    renderItem: (params, api) => {
      const i = api.value(0)
      const p0 = api.coord([i, 1])
      const p1 = api.coord([i + 1, 0])
      return { type: 'rect', shape: { x: p0[0], y: p0[1], width: p1[0] - p0[0], height: p1[1] - p0[1] }, style: { fill: barColors[i] } }
    }
  },
  {
    type: 'custom', xAxisIndex: 8, yAxisIndex: 9, silent: true, encode: { x: 0, y: 1 },
    data: [[0, 200]],
    renderItem: (params, api) => {
      const p0 = api.coord([0, 2000])
      const p1 = api.coord([1, 200])
      const stops = jetColors.slice().reverse().map((c, i) => ({ offset: i / (jetColors.length - 1), color: c }))
      return {
        type: 'rect', shape: { x: p0[0], y: p0[1], width: p1[0] - p0[0], height: p1[1] - p0[1] },
        style: { fill: new echarts.graphic.LinearGradient(0, 0, 0, 1, stops) }
      }
    }
  }
]

const option = {
  backgroundColor: '#fff',
  animation: false,
  grid: panels.map(p => ({ left: 89, width: 510, top: p.top, height: p.height, show: true, borderColor: '#000', borderWidth: 1.5, backgroundColor: 'transparent' }))
    .concat([
      { left: 445, top: 34, width: 126, height: 6 },
      { left: 445, top: 130, width: 123, height: 7 },
      { left: 607, top: 337, width: 6, height: 55 }
    ]),
  xAxis: [
    xAx(0, false), xAx(1, false), xAx(2, false), xAx(3, true),
    hidden(4, 0, 10),
    {
      type: 'value', gridIndex: 4, min: 10, max: 100, position: 'bottom',
      axisLine: { show: true, lineStyle: { color: '#333', width: 1 } },
      axisTick: { show: true, length: 5, customValues: rhTicks, lineStyle: { color: '#333' } },
      axisLabel: { customValues: rhTicks, margin: 8, fontFamily: FONT, fontSize: 20, color: '#000', showMinLabel: true, showMaxLabel: true },
      splitLine: { show: false },
      name: 'RH (%)', nameLocation: 'middle', nameGap: 27, nameMoveOverlap: false,
      nameTextStyle: { fontFamily: FONT, fontSize: 20, color: '#000' }
    },
    hidden(5, 0, 10),
    {
      type: 'log', logBase: 10, gridIndex: 5, min: 1, max: 166, position: 'bottom',
      axisLine: { show: true, lineStyle: { color: '#333', width: 1 } },
      axisTick: { show: true, length: 5, customValues: noTicks, lineStyle: { color: '#333' } },
      axisLabel: { customValues: noTicks, margin: 6, fontFamily: FONT, fontSize: 20, color: '#000', formatter: v => String(Math.round(v)) },
      splitLine: { show: false }, minorSplitLine: { show: false },
      name: 'NO (ppb)', nameLocation: 'middle', nameGap: 22, nameMoveOverlap: false,
      nameTextStyle: { fontFamily: FONT, fontSize: 20, color: '#000' }
    },
    hidden(6, 0, 1)
  ],
  yAxis: [
    yAx({ grid: 0, pos: 'left', min: -100, max: 500, ticks: [-100, 0, 100, 200, 300, 400, 500], labels: [0, 200, 400], gap: 33,
      name: '{i|c}{sub|PM2.5}{n| (μg m}{sup|-3}{n|)}' }),
    yAx({ grid: 0, pos: 'right', min: -0.1, max: 5.8, ticks: [0, 1, 2, 3, 4, 5], labels: [0, 2, 4], gap: 48,
      name: '{i|c}{sub|CO}{n| (ppm)}' }),
    yAx({ grid: 1, pos: 'left', min: 0, max: 15.3, ticks: [0, 2.5, 5, 7.5, 10, 12.5, 15], labels: [0, 5, 10], gap: 47,
      name: '{i|c}{sub|HONO}{n| (ppb)}' }),
    yAx({ grid: 1, pos: 'right', min: -92, max: 276, ticks: [-50, 0, 50, 100, 150, 200, 250], labels: [0, 100, 200], gap: 46,
      name: '{i|c}{sub|NOx}{n| (ppb)}' }),
    yAx({ grid: 2, pos: 'left', min: -15, max: 28, ticks: [-10, -5, 0, 5, 10, 15, 20, 25], labels: [-10, 0, 10, 20], gap: 20,
      name: '{i|T}{n| (°C)}' }),
    yAx({ grid: 2, pos: 'right', min: 0.99, max: 1.035, ticks: [0.99, 1.0, 1.01, 1.02, 1.03], labels: [1.0, 1.02], gap: 46,
      fmt: v => v.toFixed(2), name: '{i|P}{n|(MPa)}' }),
    yAx({ grid: 3, pos: 'left', min: 0, max: 2.88, ticks: [0, 0.5, 1, 1.5, 2, 2.5], labels: [0, 1, 2], gap: 42,
      name: '{n|UV (W m}{sup|-2}{n|)}' }),
    hidden(4, 0, 1),
    hidden(5, 0, 1),
    pblAx([200, 1400], pblTicks),
    pblAx([800, 2000], [])
  ],
  visualMap: [
    { type: 'piecewise', show: false, seriesIndex: 4, dimension: 2, min: 10, max: 100, splitNumber: 10, inRange: { color: barColors } },
    { type: 'piecewise', show: false, seriesIndex: 7, dimension: 2, min: 0, max: Math.log10(166), splitNumber: 10, inRange: { color: barColors } },
    { type: 'continuous', show: false, seriesIndex: 11, dimension: 4, min: 200, max: 2000, inRange: { color: jetColors } }
  ],
  legend: [
    leg('CO', 213, 30, '#9c9c9c'),
    leg('PM2.5', 323, 30, '#22dd22', '{n|PM}{sub|2.5}'),
    leg('NOx', 213, 123, '#9c9c9c'),
    leg('HONO', 323, 123, '#22eeff'),
    leg('T', 213, 213, '#ff1a1a'),
    leg('P', 323, 213, '#3af2f2', '{i|P}'),
    leg('UVB', 213, 308, '#d9c8f6'),
    leg('WS', 318, 308, '#3a3aff', '{n|WS (3 m s}{sup|-1}{n|)}', 25)
  ],
  graphic: [
    { type: 'text', left: 96, top: 38, style: { text: '(A)', font: '22px "Liberation Serif"', fill: '#000' } },
    { type: 'text', left: 96, top: 134, style: { text: '(B)', font: '22px "Liberation Serif"', fill: '#000' } },
    { type: 'text', left: 96, top: 220, style: { text: '(C)', font: '22px "Liberation Serif"', fill: '#000' } },
    { type: 'text', left: 96, top: 314, style: { text: '(D)', font: '22px "Liberation Serif"', fill: '#000' } },
    { type: 'text', left: 605, top: 308, style: { text: 'PBL (m)', font: '20px "Liberation Serif"', fill: '#000' } }
  ],
  series: series
}

const chart = echarts.init(document.getElementById('chart'))
chart.setOption(option)
</script>
</body>
</html>
